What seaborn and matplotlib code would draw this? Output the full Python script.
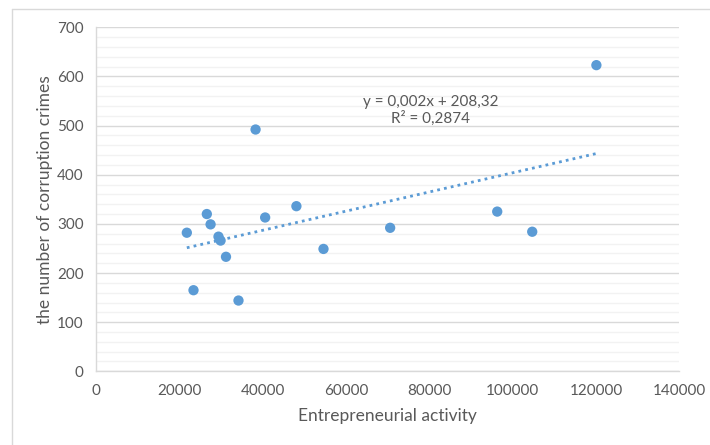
import numpy as np
import pandas as pd
import seaborn as sns
import matplotlib.pyplot as plt
from matplotlib.lines import Line2D
from matplotlib.ticker import MultipleLocator

# --- DATA ---
activity = [21800, 23400, 26600, 27500, 29400, 29900, 31200, 34200, 38300,
            40600, 48100, 54600, 70600, 96300, 104700, 120100]
crimes = [282, 165, 320, 299, 274, 266, 233, 144, 492,
          313, 336, 249, 292, 325, 284, 623]
trend_text = "y = 0,002x + 208,32\nR² = 0,2874"

df = pd.DataFrame({"activity": activity, "crimes": crimes})

sns.set_style("white")
plt.rcParams["font.family"] = ["Lato", "DejaVu Sans"]

blue = "#5B9BD5"
grey_text = "#595959"

fig = plt.figure(figsize=(7.1, 4.45), dpi=100)
ax = fig.add_axes([96 / 710, 1 - 371.3 / 445, (679.3 - 96) / 710, (371.3 - 27.3) / 445])

# gridlines
ax.yaxis.set_major_locator(MultipleLocator(100))
ax.yaxis.set_minor_locator(MultipleLocator(20))
ax.xaxis.set_major_locator(MultipleLocator(20000))
ax.grid(axis="y", which="major", color="#D9D9D9", linewidth=1)
ax.grid(axis="y", which="minor", color="#F2F2F2", linewidth=1)
ax.set_axisbelow(True)

sns.regplot(data=df, x="activity", y="crimes", ax=ax, ci=None, truncate=True,
            scatter_kws={"s": 55, "color": blue, "edgecolor": "none", "alpha": 1, "zorder": 3},
            line_kws={"color": blue, "linestyle": (0, (1, 1.5)), "linewidth": 2, "zorder": 2})

ax.set_xlim(0, 140000)
ax.set_ylim(0, 700)

for s in ["top", "right"]:
    ax.spines[s].set_visible(False)
for s in ["left", "bottom"]:
    ax.spines[s].set_color("#D9D9D9")
    ax.spines[s].set_linewidth(1)

ax.tick_params(axis="both", which="major", length=5, width=1, color="#D9D9D9",
               labelcolor=grey_text, labelsize=11, direction="out", pad=4)
ax.tick_params(axis="both", which="minor", length=0)
ax.set_xticklabels([f"{int(v)}" for v in ax.get_xticks()])

ax.set_xlabel("Entrepreneurial activity", color=grey_text, fontsize=12.5, va="center")
ax.set_ylabel("the number of corruption crimes", color=grey_text, fontsize=12.5, va="center")
ax.xaxis.set_label_coords(0.5, -0.13)
ax.yaxis.set_label_coords(-0.087, 0.5)

ax.text(80400, 531, trend_text, ha="center", va="center", color=grey_text,
        fontsize=11, linespacing=1.2)

# chart border (top and left edges visible)
fig.add_artist(Line2D([12 / 710, 12 / 710], [0, 1 - 8.5 / 445], transform=fig.transFigure,
                      color="#D9D9D9", linewidth=1))
fig.add_artist(Line2D([12 / 710, 1], [1 - 8.5 / 445, 1 - 8.5 / 445], transform=fig.transFigure,
                      color="#D9D9D9", linewidth=1))

fig.savefig("out.png", dpi=100)
